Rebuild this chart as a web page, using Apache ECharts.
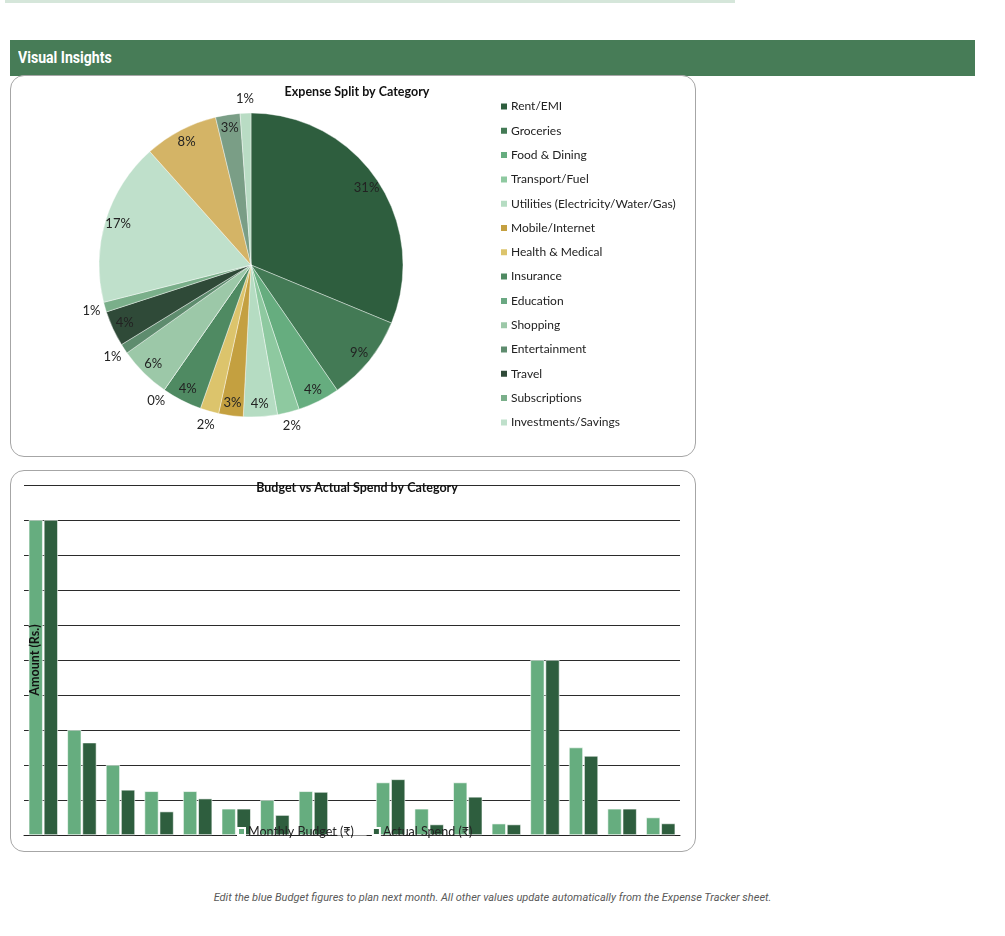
<!DOCTYPE html>
<html>
<head>
<meta charset="utf-8">
<script src="https://cdn.jsdelivr.net/npm/echarts@6/dist/echarts.min.js"></script>
<style>
  html, body { margin: 0; padding: 0; background: #fff; }
  #page { position: relative; width: 1005px; height: 936px; overflow: hidden; }
  .topline { position: absolute; left: 5px; top: 0; width: 730px; height: 3px; background: #d5e6da; }
  .band { position: absolute; left: 10px; top: 40px; width: 965px; height: 36px; background: #477c57; }
  .band span { position: absolute; left: 8px; top: 8px; color: #fff; font: bold 16px Roboto, sans-serif;
               transform: scaleX(0.88); transform-origin: left center; white-space: nowrap; }
  .card { position: absolute; left: 10px; width: 684px; border: 1px solid #a6a6a6; border-radius: 14px; background: #fff; }
  .foot { position: absolute; left: 0; width: 985px; top: 891px; text-align: center; color: #595959;
          font: italic 11px Roboto, sans-serif; white-space: nowrap; }
  #chart { position: absolute; left: 0; top: 0; width: 1005px; height: 936px; }
</style>
</head>
<body>
<div id="page">
  <div class="topline"></div>
  <div class="band"><span>Visual Insights</span></div>
  <div class="card" style="top:75px;height:380px;"></div>
  <div class="card" style="top:470px;height:380px;"></div>
  <div class="foot">Edit the blue Budget figures to plan next month. All other values update automatically from the Expense Tracker sheet.</div>
  <div id="chart"></div>
</div>
<script>
// categories (the last three are not listed in the pie legend of the sheet)
var categories = ['Rent/EMI', 'Groceries', 'Food & Dining', 'Transport/Fuel', 'Utilities (Electricity/Water/Gas)',
    'Mobile/Internet', 'Health & Medical', 'Insurance', 'Education', 'Shopping', 'Entertainment', 'Travel',
    'Subscriptions', 'Investments/Savings', 'Personal Care', 'Gifts & Donations', 'Miscellaneous'];
var budget = [18000, 6000, 4000, 2500, 2500, 1500, 2000, 2500, 0, 3000, 1500, 3000, 650, 10000, 5000, 1500, 1000];
var actual = [18000, 5280, 2580, 1340, 2080, 1500, 1140, 2460, 0, 3180, 600, 2180, 600, 10000, 4520, 1500, 660];
var pieColors = ['#2e5e3e', '#437a55', '#66ad7f', '#8ec9a0', '#b5dcc2', '#c4a040', '#dcc46c', '#4f8a62',
    '#6aa882', '#9cc8a8', '#5e8c6e', '#2f4a38', '#7aaf8a', '#bfe0cb', '#d4b466', '#7a9e86', '#b9dcc4'];
// which slices carry their percentage outside the pie
var outsideLabel = [0, 0, 0, 1, 0, 0, 1, 0, 1, 0, 1, 0, 1, 0, 0, 0, 1];
var legendCount = 14;

var font = "Lato, 'Noto Sans', sans-serif";
var cx = 251, cy = 265, r = 152;

function pieData(mode) {
    return categories.map(function (name, i) {
        var item = { name: name, value: actual[i] };
        if (mode === 'main') {
            item.itemStyle = { color: pieColors[i] };
        } else {
            var show = (mode === 'out') ? outsideLabel[i] === 1 : outsideLabel[i] === 0;
            item.itemStyle = { color: 'rgba(0,0,0,0)' };
            item.label = { show: show };
        }
        return item;
    });
}

function pctLabel(p) {
    return Math.round(p.percent) + '%';
}

var chart = echarts.init(document.getElementById('chart'), null, { renderer: 'canvas' });
chart.setOption({
    animation: false,
    title: [{
        text: 'Expense Split by Category',
        left: 352, top: 80, textAlign: 'center',
        textStyle: { fontFamily: font, fontSize: 12.5, fontWeight: 'bold', color: '#111' }
    }, {
        text: 'Budget vs Actual Spend by Category',
        left: 352, top: 476, textAlign: 'center',
        textStyle: { fontFamily: font, fontSize: 12.5, fontWeight: 'bold', color: '#111' }
    }],
    graphic: [{
        type: 'text',
        x: 35, y: 660,
        rotation: Math.PI / 2,
        z: 100,
        style: {
            text: 'Amount (Rs.)',
            align: 'center', verticalAlign: 'middle',
            fontFamily: font, fontSize: 12.5, fontWeight: 'bold', fill: '#111'
        }
    }],
    legend: [{
        orient: 'vertical',
        left: 494, top: 94,
        data: categories.slice(0, legendCount),
        icon: 'rect', itemWidth: 8, itemHeight: 8, itemGap: 9.3,
        selectedMode: false,
        textStyle: { fontFamily: font, fontSize: 12, color: '#222', lineHeight: 15, padding: [0, 0, 0, -2] }
    }, {
        left: 232, top: 820,
        z: 20,
        data: ['Monthly Budget (₹)', 'Actual Spend (₹)'],
        icon: 'rect', itemWidth: 7, itemHeight: 7, itemGap: 18,
        selectedMode: false,
        textStyle: { fontFamily: font, fontSize: 12.5, color: '#222', padding: [0, 0, 0, -2] }
    }],
    grid: { left: 24, right: 325, top: 485, bottom: 101 },
    xAxis: {
        type: 'category',
        data: categories,
        axisLine: { lineStyle: { color: '#222', width: 1 } },
        axisTick: { show: false },
        axisLabel: { show: false }
    },
    yAxis: {
        type: 'value',
        min: 0, max: 20000, interval: 2000,
        axisLine: { show: false },
        axisTick: { show: false },
        axisLabel: { show: false },
        splitLine: { lineStyle: { color: '#2b2b2b', width: 1 } }
    },
    series: [{
        name: 'Monthly Budget (₹)',
        type: 'bar',
        data: budget,
        barWidth: 14,
        barGap: '8%',
        itemStyle: { color: '#66ad7f', borderColor: '#fff', borderWidth: 0.6 }
    }, {
        name: 'Actual Spend (₹)',
        type: 'bar',
        data: actual,
        barWidth: 14,
        itemStyle: { color: '#2e5e3e', borderColor: '#fff', borderWidth: 0.6 }
    }, {
        type: 'pie',
        center: [cx, cy],
        radius: [0, r],
        startAngle: 90,
        clockwise: true,
        silent: true,
        percentPrecision: 2,
        label: { show: false },
        labelLine: { show: false },
        itemStyle: { borderColor: '#fff', borderWidth: 0.4 },
        data: pieData('main')
    }, {
        type: 'pie',
        center: [cx, cy],
        radius: [r - 32, r],
        startAngle: 90,
        clockwise: true,
        silent: true,
        percentPrecision: 2,
        label: { position: 'inside', formatter: pctLabel, fontFamily: font, fontSize: 13, color: '#222' },
        labelLine: { show: false },
        data: pieData('in')
    }, {
        type: 'pie',
        center: [cx, cy],
        radius: [r, r + 22],
        startAngle: 90,
        clockwise: true,
        silent: true,
        percentPrecision: 2,
        label: { position: 'inside', formatter: pctLabel, fontFamily: font, fontSize: 13, color: '#222' },
        labelLine: { show: false },
        data: pieData('out')
    }]
});
</script>
</body>
</html>
